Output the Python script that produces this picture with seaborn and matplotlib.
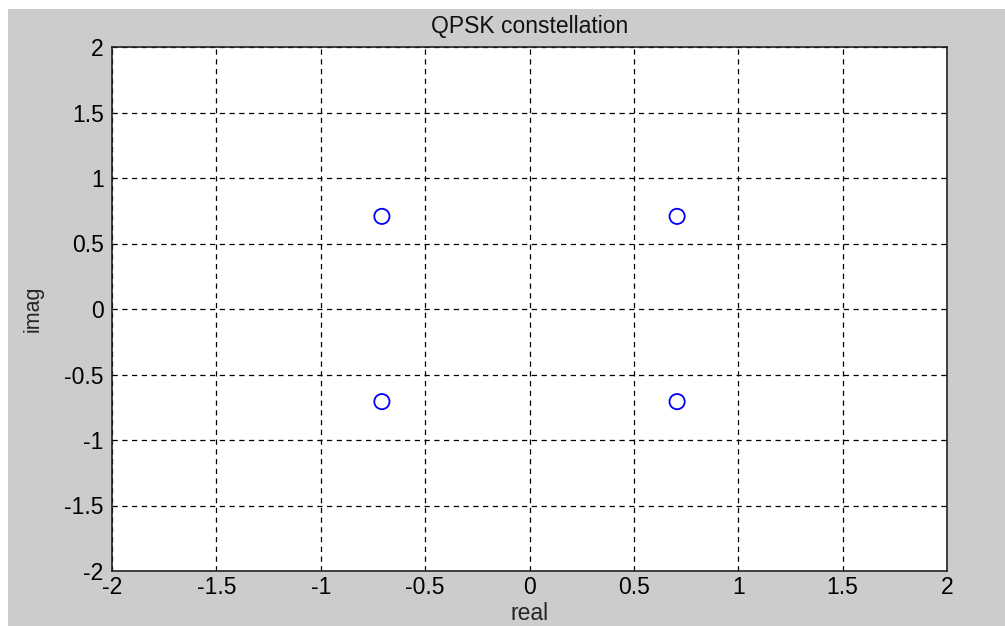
import matplotlib
matplotlib.use("Agg")
import matplotlib.pyplot as plt
import seaborn as sns
import pandas as pd
from matplotlib.patches import Rectangle

real_vals = [-0.7071, -0.7071, 0.7071, 0.7071]
imag_vals = [0.7071, -0.7071, 0.7071, -0.7071]
ticks = [-2, -1.5, -1, -0.5, 0, 0.5, 1, 1.5, 2]
tick_labels = ["-2", "-1.5", "-1", "-0.5", "0", "0.5", "1", "1.5", "2"]

sns.set_style("white")
plt.rcParams['font.family'] = ['Liberation Sans', 'DejaVu Sans']

W, H = 1005, 626
fig = plt.figure(figsize=(W / 100, H / 100), dpi=100, facecolor="white")
fig.patches.append(Rectangle((8 / W, 0), 1 - 8 / W, (H - 9) / H, transform=fig.transFigure,
                             facecolor="#cccccc", edgecolor="none", zorder=-10))

left, right, top, bottom = 112, 947, 47, 571
ax = fig.add_axes([left / W, (H - bottom) / H, (right - left) / W, (bottom - top) / H])
ax.set_facecolor("white")

df = pd.DataFrame({"real": real_vals, "imag": imag_vals})
sns.scatterplot(data=df, x="real", y="imag", ax=ax, marker="o", s=120,
                facecolors="none", edgecolor="blue", linewidth=1.3, zorder=5)

ax.set_xlim(-2, 2)
ax.set_ylim(-2, 2)
ax.set_xticks(ticks)
ax.set_xticklabels(tick_labels)
ax.set_yticks(ticks)
ax.set_yticklabels(tick_labels)
ax.grid(True, color="black", linestyle=(0, (4.2, 3.6)), linewidth=0.9)
ax.tick_params(axis="both", direction="in", length=5, width=0.8, labelsize=16.5, colors="black")
ax.tick_params(axis="x", pad=3.5)
ax.tick_params(axis="y", pad=6)
for s in ax.spines.values():
    s.set_color("#222222")
    s.set_linewidth(1.2)

ax.set_title("QPSK constellation", fontsize=16.5, pad=10, color="#111111")
ax.set_xlabel("real", fontsize=16.5, labelpad=2)
ax.set_ylabel("imag", fontsize=15.5, labelpad=15)

fig.savefig("out.png", dpi=100, facecolor="white")
